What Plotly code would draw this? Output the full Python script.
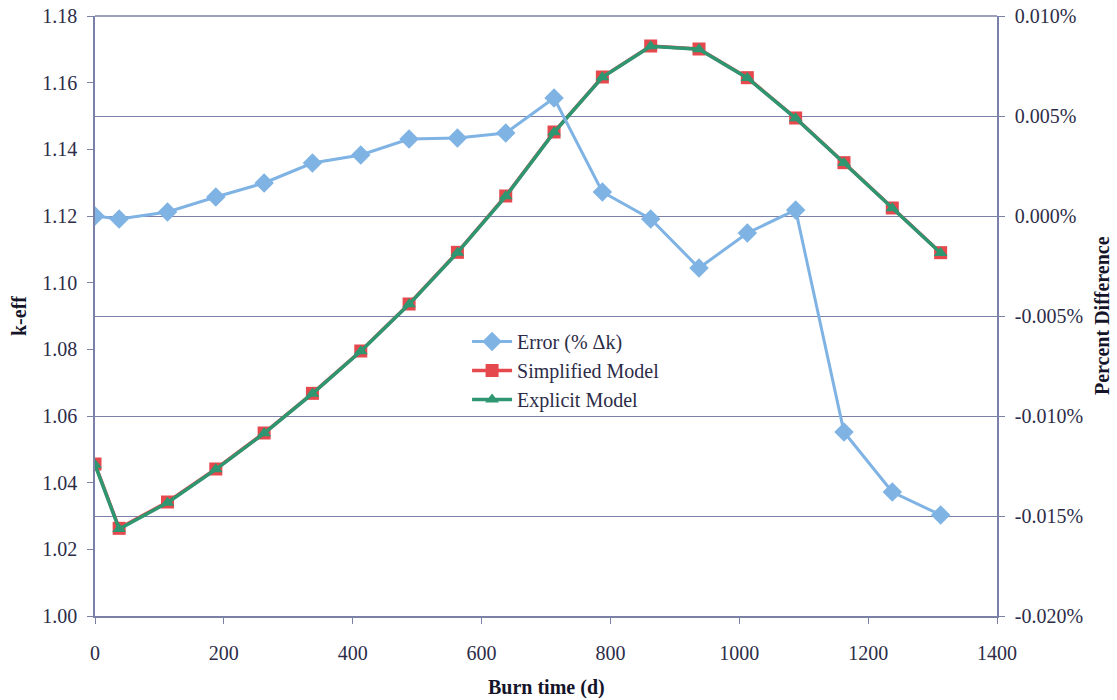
import plotly.graph_objects as go

burn_time = [0, 37.5, 112.5, 187.5, 262.5, 337.5, 412.5, 487.5, 562.5, 637.5,
             712.5, 787.5, 862.5, 937.5, 1012.5, 1087.5, 1162.5, 1237.5, 1312.5]
simplified_keff = [1.0456, 1.0263, 1.0342, 1.0441, 1.0549, 1.0668, 1.0795, 1.0936, 1.1091, 1.1260,
                   1.1452, 1.1617, 1.1710, 1.1701, 1.1615, 1.1494, 1.1360, 1.1224, 1.1090]
explicit_keff = [1.0454, 1.0261, 1.0340, 1.0440, 1.0548, 1.0667, 1.0794, 1.0935, 1.1090, 1.1259,
                 1.1451, 1.1616, 1.1709, 1.1700, 1.1614, 1.1493, 1.1359, 1.1223, 1.1089]
error_pct = [0.0000, -0.00015, 0.0002, 0.00095, 0.00165, 0.00265, 0.00305, 0.00385, 0.0039, 0.00415,
             0.0059, 0.0012, -0.00015, -0.0026, -0.00085, 0.0003, -0.0108, -0.0138, -0.01495]

left_ticks = [1.00, 1.02, 1.04, 1.06, 1.08, 1.10, 1.12, 1.14, 1.16, 1.18]
right_ticks = [-0.020, -0.015, -0.010, -0.005, 0.000, 0.005, 0.010]
x_ticks = [0, 200, 400, 600, 800, 1000, 1200, 1400]

FONT = "Liberation Serif, Times New Roman, serif"
TXT = "#2c2c48"
AX = "#7b80a6"
FS = 20

fig = go.Figure()
fig.add_trace(go.Scatter(
    x=burn_time, y=error_pct, name="Error (% Δk)", yaxis="y2",
    mode="lines+markers",
    line=dict(color="#7fb3e4", width=3),
    marker=dict(symbol="diamond", size=15, color="#7fb3e4"),
))
fig.add_trace(go.Scatter(
    x=burn_time, y=simplified_keff, name="Simplified Model",
    mode="lines+markers",
    line=dict(color="#e5484d", width=3.5),
    marker=dict(symbol="square", size=13, color="#e5484d"),
))
fig.add_trace(go.Scatter(
    x=burn_time, y=explicit_keff, name="Explicit Model",
    mode="lines+markers",
    line=dict(color="#2e9670", width=3.5),
    marker=dict(symbol="triangle-up", size=12, color="#2e9670"),
))

fig.update_layout(
    width=1117, height=700,
    margin=dict(l=95, r=120, t=16, b=84, autoexpand=False),
    paper_bgcolor="white", plot_bgcolor="white",
    font=dict(family=FONT, size=FS, color=TXT),
    showlegend=True,
    legend=dict(
        x=0.4125, y=0.49, xanchor="left", yanchor="top",
        bgcolor="rgba(255,255,255,0)", font=dict(family=FONT, size=FS, color=TXT),
        itemwidth=40, tracegroupgap=0,
    ),
    xaxis=dict(
        range=[0, 1400], tickvals=x_ticks, ticktext=[str(v) for v in x_ticks],
        showgrid=False, zeroline=False, automargin=False,
        showline=True, linecolor=AX, linewidth=1.5, mirror=False,
        ticks="outside", ticklen=6, tickcolor=AX, ticklabelstandoff=12,
        tickfont=dict(family=FONT, size=FS, color=TXT),
    ),
    yaxis=dict(
        range=[1.00, 1.18], tickvals=left_ticks, ticktext=[f"{v:.2f}" for v in left_ticks],
        showgrid=False, zeroline=False, automargin=False,
        showline=True, linecolor=AX, linewidth=1.5,
        ticks="outside", ticklen=6, tickcolor=AX, ticklabelstandoff=6,
        tickfont=dict(family=FONT, size=FS, color=TXT),
    ),
    yaxis2=dict(
        range=[-0.020, 0.010], overlaying="y", side="right",
        tickvals=right_ticks, ticktext=[f"{v:.3f}%" for v in right_ticks],
        showgrid=True, gridcolor=AX, gridwidth=1.2, zeroline=False, automargin=False,
        showline=True, linecolor=AX, linewidth=1.5,
        ticks="outside", ticklen=6, tickcolor=AX, ticklabelstandoff=6,
        tickfont=dict(family=FONT, size=FS, color=TXT),
    ),
)

# top border line of plot area
fig.add_shape(type="line", xref="paper", yref="paper", x0=0, x1=1, y0=1, y1=1,
              line=dict(color=AX, width=1.5))

# axis titles
title_font = dict(family=FONT, size=FS, color="#15152a")
fig.add_annotation(text="<b>Burn time (d)</b>", xref="paper", yref="paper",
                   x=0.5, y=-71 / 600, xanchor="center", yanchor="middle",
                   showarrow=False, font=title_font)
fig.add_annotation(text="<b>k-eff</b>", xref="paper", yref="paper",
                   x=-76 / 902, y=0.5, xanchor="center", yanchor="middle", textangle=-90,
                   showarrow=False, font=title_font)
fig.add_annotation(text="<b>Percent Difference</b>", xref="paper", yref="paper",
                   x=1 + 105 / 902, y=0.5, xanchor="center", yanchor="middle", textangle=-90,
                   showarrow=False, font=title_font)

# remove the browser's default 8px body margin so the figure fills the window
fig.write_html("out.html", config={"displayModeBar": False},
               post_script="document.body.style.margin='0';document.body.style.overflow='hidden';")
